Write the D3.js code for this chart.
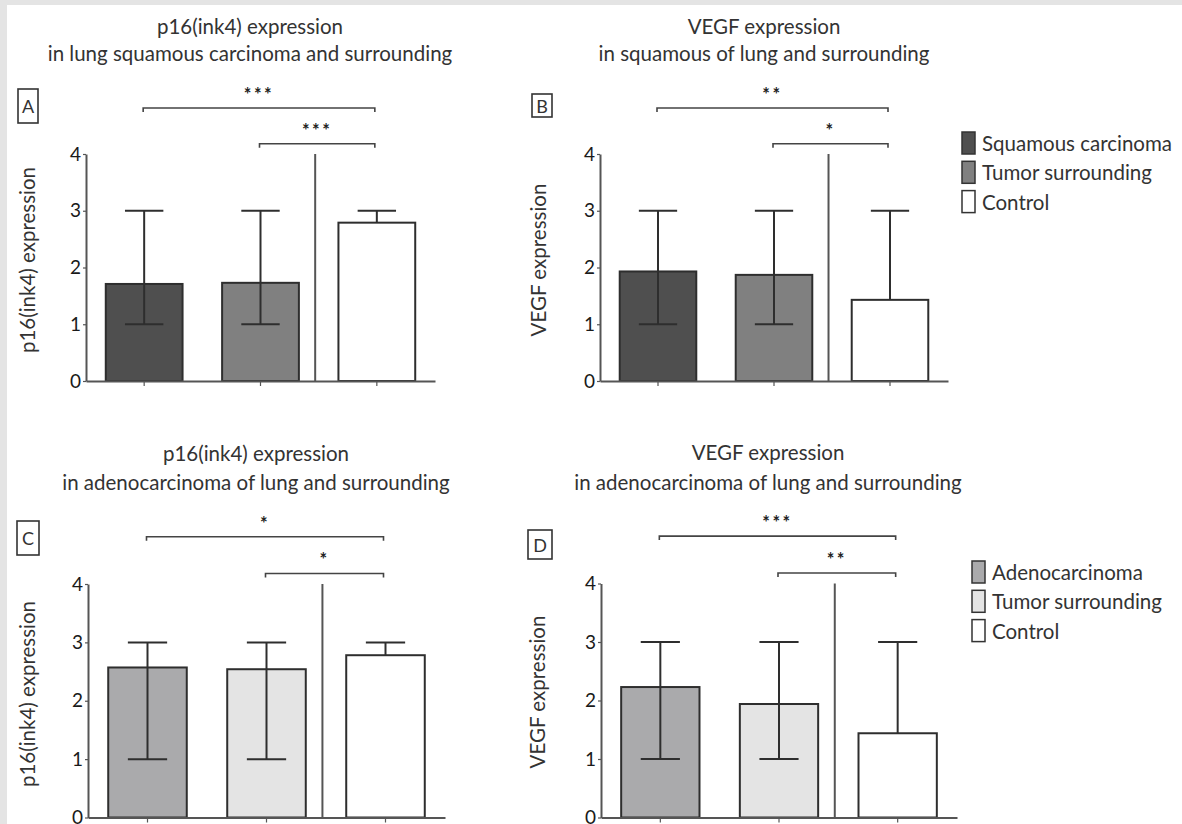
<!DOCTYPE html>
<html>
<head>
<meta charset="utf-8">
<script src="https://cdn.jsdelivr.net/npm/d3@7"></script>
<style>
  html, body { margin: 0; padding: 0; background: #e4e4e4; }
  svg { display: block; font-family: Lato, "Open Sans", sans-serif; }
</style>
</head>
<body>
<svg id="fig" width="1182" height="824"></svg>
<script>
// ---- data -------------------------------------------------------------
const groupsSquamous = ["Squamous carcinoma", "Tumor surrounding", "Control"];
const groupsAdeno    = ["Adenocarcinoma", "Tumor surrounding", "Control"];

// mean expression scores
const p16SquamousMean  = [1.71, 1.73, 2.79];
const vegfSquamousMean = [1.93, 1.87, 1.43];
const p16AdenoMean     = [2.57, 2.54, 2.78];
const vegfAdenoMean    = [2.23, 1.94, 1.44];

// whisker ends (the control's lower whisker sits behind its bar)
const errLower = [1, 1, null];
const errUpper = [3, 3, 3];

const yTicks = [0, 1, 2, 3, 4];

// significance: [first group vs control, second group vs control]
const sigP16Squamous  = ["***", "***"];
const sigVegfSquamous = ["**", "*"];
const sigP16Adeno     = ["*", "*"];
const sigVegfAdeno    = ["***", "**"];
const bracketLevels   = [4.81, 4.18];

const colorsSquamous = ["#4f4f4f", "#808080", "#ffffff"];
const colorsAdeno    = ["#aaaaac", "#e4e4e4", "#ffffff"];

// ---- layout -----------------------------------------------------------
const panels = [
  { tag: "A", groups: groupsSquamous, means: p16SquamousMean, sig: sigP16Squamous, colors: colorsSquamous,
    title: ["p16(ink4) expression", "in lung squamous carcinoma and surrounding"], titleX: 250, titleY: [34, 61],
    yLabel: "p16(ink4) expression", yLabelPos: [27, 260],
    left: 86, right: 435, bottom: 381, top: 154, box: [18, 89, 20, 34] },
  { tag: "B", groups: groupsSquamous, means: vegfSquamousMean, sig: sigVegfSquamous, colors: colorsSquamous,
    title: ["VEGF expression", "in squamous of lung and surrounding"], titleX: 764, titleY: [34, 61],
    yLabel: "VEGF expression", yLabelPos: [538, 260],
    left: 600, right: 948, bottom: 381, top: 154, box: [532, 94, 20, 23],
    legend: [962, 132] },
  { tag: "C", groups: groupsAdeno, means: p16AdenoMean, sig: sigP16Adeno, colors: colorsAdeno,
    title: ["p16(ink4) expression", "in adenocarcinoma of lung and surrounding"], titleX: 256, titleY: [461, 490],
    yLabel: "p16(ink4) expression", yLabelPos: [27, 694],
    left: 88, right: 445, bottom: 817.5, top: 584, box: [17, 521, 22, 34] },
  { tag: "D", groups: groupsAdeno, means: vegfAdenoMean, sig: sigVegfAdeno, colors: colorsAdeno,
    title: ["VEGF expression", "in adenocarcinoma of lung and surrounding"], titleX: 768, titleY: [460, 490],
    yLabel: "VEGF expression", yLabelPos: [537, 692],
    left: 601, right: 957, bottom: 817.5, top: 583.5, box: [528, 530, 24, 29],
    legend: [972, 561] }
];

const ink = "#2e2e2e";
const textSize = 20.5;
const svg = d3.select("#fig");

// white sheet inside the grey frame
svg.append("rect").attr("x", 7).attr("y", 5)
  .attr("width", 1182 - 7).attr("height", 824 - 5).attr("fill", "#ffffff");

function drawPanel(p) {
  const g = svg.append("g");

  const x = d3.scaleBand().domain(d3.range(p.groups.length))
    .range([p.left, p.right]).paddingInner(0.34).paddingOuter(0.17);
  const y = d3.scaleLinear().domain([0, 4]).range([p.bottom, p.top]);
  const bw = x.bandwidth();
  const cx = i => x(i) + bw / 2;

  // title
  g.append("g").selectAll("text").data(p.title).join("text")
    .attr("x", p.titleX).attr("y", (d, i) => p.titleY[i])
    .attr("text-anchor", "middle").attr("font-size", textSize).attr("fill", "#333")
    .text(d => d);

  // panel tag
  g.append("rect").attr("x", p.box[0]).attr("y", p.box[1])
    .attr("width", p.box[2]).attr("height", p.box[3])
    .attr("fill", "none").attr("stroke", "#333").attr("stroke-width", 1.6);
  g.append("text").attr("x", p.box[0] + p.box[2] / 2).attr("y", p.box[1] + p.box[3] / 2)
    .attr("text-anchor", "middle").attr("dominant-baseline", "central")
    .attr("font-size", 18).attr("fill", "#333").text(p.tag);

  // y label
  g.append("text")
    .attr("transform", `translate(${p.yLabelPos[0]},${p.yLabelPos[1]}) rotate(-90)`)
    .attr("text-anchor", "middle").attr("dominant-baseline", "central")
    .attr("font-size", textSize).attr("fill", "#333").text(p.yLabel);

  // bars
  g.append("g").selectAll("rect").data(p.means).join("rect")
    .attr("x", (d, i) => x(i)).attr("y", d => y(d))
    .attr("width", bw).attr("height", d => y(0) - y(d))
    .attr("fill", (d, i) => p.colors[i])
    .attr("stroke", ink).attr("stroke-width", 2);

  // error bars
  const eb = g.append("g").attr("stroke", ink).attr("stroke-width", 2);
  const capHalf = bw * 0.25;
  p.means.forEach((m, i) => {
    const lo = errLower[i] === null ? m : errLower[i];
    eb.append("line").attr("x1", cx(i)).attr("x2", cx(i))
      .attr("y1", y(lo)).attr("y2", y(errUpper[i]));
    eb.append("line").attr("x1", cx(i) - capHalf).attr("x2", cx(i) + capHalf)
      .attr("y1", y(errUpper[i])).attr("y2", y(errUpper[i]));
    if (errLower[i] !== null) {
      eb.append("line").attr("x1", cx(i) - capHalf).attr("x2", cx(i) + capHalf)
        .attr("y1", y(errLower[i])).attr("y2", y(errLower[i]));
    }
  });

  // divider before the control group
  const sepX = x(2) - x.step() * 0.2;
  g.append("line").attr("x1", sepX).attr("x2", sepX)
    .attr("y1", y(0)).attr("y2", y(4))
    .attr("stroke", "#555").attr("stroke-width", 2);

  // axes
  const yAxis = g.append("g").attr("transform", `translate(${p.left},0)`)
    .call(d3.axisLeft(y).tickValues(yTicks).tickFormat(d3.format("d"))
      .tickSize(3).tickSizeOuter(0).tickPadding(2));
  const xAxis = g.append("g").attr("transform", `translate(0,${p.bottom})`)
    .call(d3.axisBottom(x).tickSize(5).tickSizeOuter(0).tickFormat(""));
  [yAxis, xAxis].forEach(a => {
    a.select(".domain").attr("stroke", "#555").attr("stroke-width", 2);
    a.selectAll(".tick line").attr("stroke", "#555").attr("stroke-width", 1.2);
  });
  yAxis.selectAll(".tick text").attr("font-size", 19).attr("fill", "#1a1a1a")
    .attr("font-family", "Lato, sans-serif");

  // significance brackets
  const comps = [{ from: 0, to: 2 }, { from: 1, to: 2 }];
  comps.forEach((c, k) => {
    const yy = y(bracketLevels[k]);
    const x1 = cx(c.from) - 1, x2 = cx(c.to) - 2;
    g.append("path")
      .attr("d", `M${x1},${yy + 4}L${x1},${yy}L${x2},${yy}L${x2},${yy + 4}`)
      .attr("fill", "none").attr("stroke", "#444").attr("stroke-width", 1.6);
    g.append("text").attr("x", (x1 + x2) / 2).attr("y", yy - 7)
      .attr("text-anchor", "middle").attr("font-size", 18).attr("font-weight", "bold")
      .attr("letter-spacing", 2.5).attr("fill", "#222").text(p.sig[k]);
  });

  // legend
  if (p.legend) {
    const lg = g.append("g").attr("transform", `translate(${p.legend[0]},${p.legend[1]})`);
    const rows = lg.selectAll("g").data(p.groups).join("g")
      .attr("transform", (d, i) => `translate(0,${i * 29.3})`);
    rows.append("rect").attr("width", 13).attr("height", 22)
      .attr("fill", (d, i) => p.colors[i]).attr("stroke", "#333").attr("stroke-width", 1.5);
    rows.append("text").attr("x", 20).attr("y", 11).attr("dominant-baseline", "central")
      .attr("font-size", textSize).attr("fill", "#333").text(d => d);
  }
}

panels.forEach(drawPanel);
</script>
</body>
</html>
